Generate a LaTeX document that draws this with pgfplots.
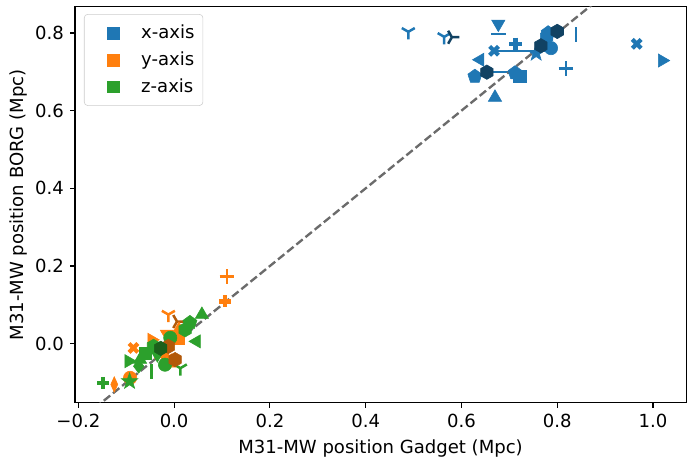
\documentclass[border=0pt]{standalone}
\usepackage{fontspec}
\setmainfont{DejaVu Sans}
\usepackage{pgfplots}
\pgfplotsset{compat=1.18}
\definecolor{C0}{HTML}{1F77B4}
\definecolor{C1}{HTML}{FF7F0E}
\definecolor{C2}{HTML}{2CA02C}
\colorlet{C0d}{C0!55!black}
\colorlet{C1d}{C1!70!black}
\colorlet{C2d}{C2!60!black}
\definecolor{dline}{gray}{0.42}
\pgfdeclareplotmark{hexagon*}{%
  \pgfpathmoveto{\pgfpointpolar{90}{\pgfplotmarksize}}%
  \pgfpathlineto{\pgfpointpolar{150}{\pgfplotmarksize}}%
  \pgfpathlineto{\pgfpointpolar{210}{\pgfplotmarksize}}%
  \pgfpathlineto{\pgfpointpolar{270}{\pgfplotmarksize}}%
  \pgfpathlineto{\pgfpointpolar{330}{\pgfplotmarksize}}%
  \pgfpathlineto{\pgfpointpolar{30}{\pgfplotmarksize}}%
  \pgfpathclose\pgfusepathqfillstroke}
\pgfdeclareplotmark{fstar}{%
  \pgfpathmoveto{\pgfpointpolar{90}{\pgfplotmarksize}}%
  \pgfpathlineto{\pgfpointpolar{126}{0.4\pgfplotmarksize}}%
  \pgfpathlineto{\pgfpointpolar{162}{\pgfplotmarksize}}%
  \pgfpathlineto{\pgfpointpolar{198}{0.4\pgfplotmarksize}}%
  \pgfpathlineto{\pgfpointpolar{234}{\pgfplotmarksize}}%
  \pgfpathlineto{\pgfpointpolar{270}{0.4\pgfplotmarksize}}%
  \pgfpathlineto{\pgfpointpolar{306}{\pgfplotmarksize}}%
  \pgfpathlineto{\pgfpointpolar{342}{0.4\pgfplotmarksize}}%
  \pgfpathlineto{\pgfpointpolar{18}{\pgfplotmarksize}}%
  \pgfpathlineto{\pgfpointpolar{54}{0.4\pgfplotmarksize}}%
  \pgfpathclose\pgfusepathqfillstroke}
\pgfplotsset{
  mk/.style={only marks, forget plot, mark size=4pt},
  mO/.style={mk, mark=*, mark size=4.8pt},
  mV/.style={mk, mark=triangle*, mark size=5.5pt, mark options={rotate=180}},
  mA/.style={mk, mark=triangle*, mark size=5.5pt},
  mL/.style={mk, mark=triangle*, mark size=5.5pt, mark options={rotate=90}},
  mR/.style={mk, mark=triangle*, mark size=5.5pt, mark options={rotate=-90}},
  mT/.style={mk, mark=Mercedes star flipped, mark size=5.4pt, mark options={line width=1.8pt}},
  mTr/.style={mk, mark=Mercedes star flipped, mark size=5.4pt, mark options={rotate=90, line width=1.8pt}},
  mS/.style={mk, mark=square*, mark size=4.4pt},
  mPent/.style={mk, mark=pentagon*, mark size=5.3pt},
  mPl/.style={mk, mark=+, mark size=4.4pt, mark options={line width=3.1pt}},
  mplus/.style={mk, mark=+, mark size=5.2pt, mark options={line width=1.8pt}},
  mX/.style={mk, mark=x, mark size=4.5pt, mark options={line width=3pt}},
  mStar/.style={mk, mark=fstar, mark size=6.2pt},
  mH/.style={mk, mark=hexagon*, mark size=5.2pt},
  mD/.style={mk, mark=diamond*, mark size=5pt},
  md/.style={mk, mark=diamond*, mark size=5.6pt, mark options={xscale=0.6}},
  mV1/.style={mk, mark=|, mark size=5.4pt, mark options={line width=1.8pt}},
  mH1/.style={mk, mark=-, mark size=5.4pt, mark options={line width=1.8pt}},
}
\begin{document}
\fontsize{13}{15.6}\selectfont
\begin{tikzpicture}
\begin{axis}[
  scale only axis, width=440pt, height=285pt,
  xmin=-0.207, xmax=1.069, ymin=-0.152, ymax=0.867,
  xtick={-0.2,0,0.2,0.4,0.6,0.8,1.0},
  xticklabels={−0.2,0.0,0.2,0.4,0.6,0.8,1.0},
  ytick={0,0.2,0.4,0.6,0.8},
  yticklabels={0.0,0.2,0.4,0.6,0.8},
  xtick pos=bottom, ytick pos=left, tick align=outside,
  major tick length=3.5pt,
  every tick/.style={black, line width=0.8pt},
  axis line style={line width=0.8pt},
  tick label style={font=\fontsize{13}{15.6}\selectfont},
  label style={font=\fontsize{13}{15.6}\selectfont},
  xlabel={M31-MW position Gadget (Mpc)},
  ylabel={M31-MW position BORG (Mpc)},
  ylabel shift=-3.5pt,
  legend style={at={(0.0147,0.982)}, anchor=north west,
    draw={rgb,255:red,204;green,204;blue,204}, rounded corners=2.5pt,
    inner xsep=4pt, inner ysep=5.5pt, row sep=3.6pt,
    font=\fontsize{13}{15.6}\selectfont},
  legend cell align=left,
  legend image code/.code={\draw[#1, mark size=4.2pt] plot coordinates {(0pt,0pt)}; \path[draw=none, fill=none] (-17pt,0pt) (18pt,0pt);},
]
\addlegendimage{only marks, mark=square*, C0}
\addlegendentry{x-axis}
\addlegendimage{only marks, mark=square*, C1}
\addlegendentry{y-axis}
\addlegendimage{only marks, mark=square*, C2}
\addlegendentry{z-axis}

% ---------------- x-axis (blue) ----------------
\addplot[forget plot, C0, line width=1.5pt] coordinates {(0.668,0.754) (0.785,0.754)};
\addplot[forget plot, C0, line width=1.5pt] coordinates {(0.653,0.699) (0.719,0.699)};
\addplot[mT, C0] coordinates {(0.489,0.803) (0.564,0.790)};
\addplot[mTr, C0d] coordinates {(0.580,0.789)};
\addplot[mV, C0] coordinates {(0.677,0.823)};
\addplot[mH1, C0] coordinates {(0.677,0.797)};
\addplot[mPl, C0] coordinates {(0.713,0.772)};
\addplot[mX, C0] coordinates {(0.668,0.754) (0.966,0.772)};
\addplot[mStar, C0] coordinates {(0.756,0.748)};
\addplot[mO, C0] coordinates {(0.787,0.761)};
\addplot[mPent, C0] coordinates {(0.781,0.800) (0.628,0.688) (0.712,0.697)};
\addplot[mH, C0] coordinates {(0.778,0.790)};
\addplot[mS, C0] coordinates {(0.722,0.689)};
\addplot[mV1, C0] coordinates {(0.839,0.795)};
\addplot[mplus, C0] coordinates {(0.818,0.709)};
\addplot[mL, C0] coordinates {(0.639,0.731)};
\addplot[mA, C0] coordinates {(0.670,0.634)};
\addplot[mR, C0] coordinates {(1.019,0.729)};
\addplot[mH, C0d] coordinates {(0.766,0.767) (0.800,0.804) (0.653,0.699)};

% ---------------- y-axis (orange) ----------------
\addplot[mplus, C1] coordinates {(0.110,0.173)};
\addplot[mPl, C1] coordinates {(0.106,0.109)};
\addplot[mT, C1] coordinates {(-0.012,0.075)};
\addplot[mTr, C1d] coordinates {(0.006,0.057)};
\addplot[mV, C1] coordinates {(-0.015,0.025)};
\addplot[mS, C1] coordinates {(0.009,0.015)};
\addplot[mR, C1] coordinates {(-0.047,0.010)};
\addplot[mX, C1] coordinates {(-0.085,-0.011)};
\addplot[mD, C1] coordinates {(-0.019,-0.033)};
\addplot[md, C1] coordinates {(-0.125,-0.105)};
\addplot[mO, C1] coordinates {(-0.092,-0.088)};
\addplot[mA, C1] coordinates {(0.010,0.036)};
\addplot[mPent, C1] coordinates {(-0.005,-0.045)};
\addplot[mStar, C1] coordinates {(-0.030,-0.020)};
\addplot[mH1, C1] coordinates {(-0.008,-0.033)};

% ---------------- z-axis (green) ----------------
\addplot[mA, C2] coordinates {(0.058,0.075) (-0.071,-0.041)};
\addplot[mPent, C2] coordinates {(0.033,0.054)};
\addplot[mH, C2] coordinates {(0.023,0.036) (-0.043,-0.007)};
\addplot[mL, C2] coordinates {(0.047,0.006)};
\addplot[mO, C2] coordinates {(-0.008,0.015) (-0.019,-0.054)};
\addplot[mS, C2] coordinates {(-0.061,-0.024)};
\addplot[mR, C2] coordinates {(-0.095,-0.045)};
\addplot[mD, C2] coordinates {(-0.074,-0.058)};
\addplot[mV1, C2] coordinates {(-0.047,-0.071)};
\addplot[mT, C2] coordinates {(0.013,-0.063)};
\addplot[mPl, C2] coordinates {(-0.148,-0.101)};
\addplot[mStar, C2] coordinates {(-0.093,-0.097)};
\addplot[mV, C2] coordinates {(-0.035,-0.028)};
\addplot[mH, C1d] coordinates {(-0.012,-0.007) (0.002,-0.041)};
\addplot[mH, C2d] coordinates {(-0.028,-0.012)};

% diagonal
\addplot[forget plot, dline, line width=1.7pt, dash pattern=on 5.9pt off 2.6pt] coordinates {(-0.3,-0.3) (1.2,1.2)};
\end{axis}
\pgfresetboundingbox
\path ([shift={(-54pt,-43.2pt)}]current axis.south west) rectangle ([shift={(1.4pt,5pt)}]current axis.north east);
\end{tikzpicture}
\end{document}
